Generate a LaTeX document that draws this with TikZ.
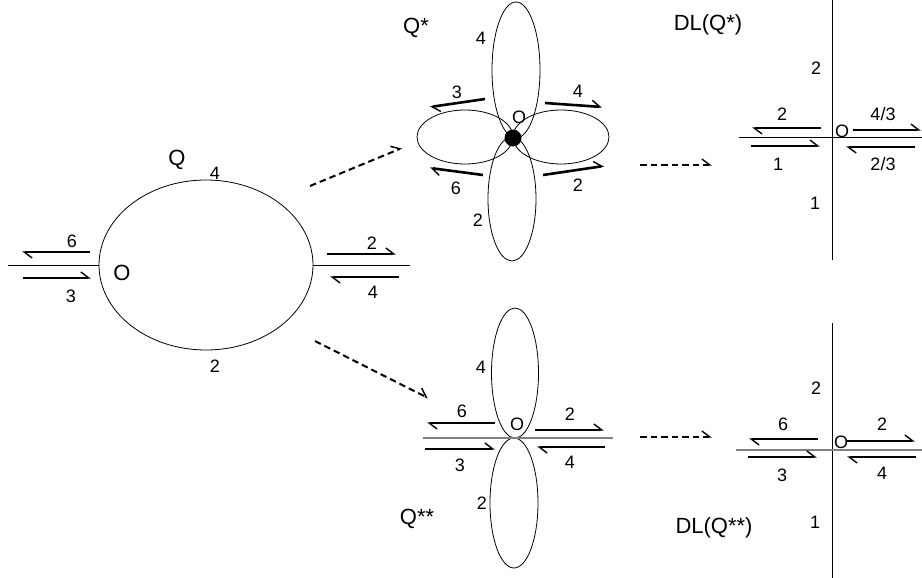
\documentclass[tikz,border=0pt]{standalone}
\usepackage{fontspec}
\setmainfont{Liberation Sans}
\usetikzlibrary{arrows.meta,shapes.geometric}
\begin{document}
\begin{tikzpicture}[x=1pt,y=-1pt,
  lbl/.style={inner sep=0pt,font=\fontsize{18}{21}\selectfont},
  big/.style={inner sep=0pt,font=\fontsize{22}{26}\selectfont},
  loopshape/.style={draw,ellipse,inner sep=0pt,line width=0.8pt},
  harp/.style={line width=2.6pt,-{Straight Barb[left,length=8pt,width=12pt,line width=1.4pt]}},
  dasharrow/.style={line width=2pt,dash pattern=on 6.5pt off 4pt,-{Straight Barb[left,length=8pt,width=12pt,line width=1.4pt]}},
  axisline/.style={line width=0.9pt},
  grayline/.style={line width=1.2pt,draw=gray}
]
\useasboundingbox (0,0) rectangle (922,578);

% ---------- Q ----------
\node[loopshape,minimum width=214pt,minimum height=170pt] (Q) at (206,265) {};
\coordinate (ql) at (8,265);
\coordinate (qr) at (410,265);
\draw[axisline] (ql) -- (Q.west);
\draw[axisline] (Q.east) -- (qr);
\coordinate (q6s) at (90,252); \coordinate (q6e) at (22,252);
\coordinate (q3s) at (23,278); \coordinate (q3e) at (91,278);
\coordinate (q2s) at (327,254); \coordinate (q2e) at (396,254);
\coordinate (q4s) at (399,277); \coordinate (q4e) at (330,277);
\draw[harp] (q6s) -- (q6e);
\draw[harp] (q3s) -- (q3e);
\draw[harp] (q2s) -- (q2e);
\draw[harp] (q4s) -- (q4e);
\node[lbl] (tq6) at (72,241) {6};
\node[lbl] (tq3) at (71,296) {3};
\node[lbl] (tq2) at (372,243) {2};
\node[lbl] (tq4) at (373,292) {4};
\node[big] (tqO) at (122,273) {O};
\node[big] (tqQ) at (177,160) {Q};
\node[lbl] (tqtop) at (215,173) {4};
\node[lbl] (tqbot) at (215,366) {2};

% dashed arrows from Q
\coordinate (d1s) at (310,186); \coordinate (d1e) at (402,148);
\coordinate (d2s) at (315,341); \coordinate (d2e) at (428,398);
\draw[dasharrow] (d1s) -- (d1e);
\draw[dasharrow] (d2s) -- (d2e);

% ---------- Q* ----------
\node[loopshape,minimum width=48pt,minimum height=136pt] (p1t) at (516,70) {};
\node[loopshape,minimum width=48pt,minimum height=124pt] (p1b) at (512,199) {};
\node[loopshape,minimum width=96pt,minimum height=54pt] (p1l) at (465,137) {};
\node[loopshape,minimum width=96pt,minimum height=54pt] (p1r) at (561,137) {};
\node[circle,fill=black,minimum size=17pt,inner sep=0pt] (dot) at (513,138) {};
\coordinate (s3s) at (485,99);  \coordinate (s3e) at (430,107);
\coordinate (s4s) at (545,103); \coordinate (s4e) at (602,107);
\coordinate (s6s) at (483,175); \coordinate (s6e) at (430,168);
\coordinate (s2s) at (543,175); \coordinate (s2e) at (604,166);
\draw[harp] (s3s) -- (s3e);
\draw[harp] (s4s) -- (s4e);
\draw[harp] (s6s) -- (s6e);
\draw[harp] (s2s) -- (s2e);
\node[lbl] (ts3) at (457,92) {3};
\node[lbl] (ts4) at (578,91) {4};
\node[lbl] (ts6) at (456,188) {6};
\node[lbl] (ts2) at (578,185) {2};
\node[lbl] (tsO) at (519,117) {O};
\node[lbl] (tspt) at (481,38) {4};
\node[lbl] (tspb) at (478,220) {2};
\node[big] (tsQ) at (416,28) {Q*};

\coordinate (d3s) at (640,165); \coordinate (d3e) at (712,165);
\draw[dasharrow] (d3s) -- (d3e);

% ---------- DL(Q*) ----------
\coordinate (v1a) at (832,0);   \coordinate (v1b) at (832,260);
\coordinate (h1a) at (739,137); \coordinate (h1b) at (922,137);
\draw[axisline] (v1a) -- (v1b);
\draw[axisline] (h1a) -- (h1b);
\coordinate (e2s) at (821,128); \coordinate (e2e) at (752,128);
\coordinate (e1s) at (751,146); \coordinate (e1e) at (820,146);
\coordinate (e43s) at (853,130); \coordinate (e43e) at (921,130);
\coordinate (e23s) at (915,147); \coordinate (e23e) at (846,147);
\draw[harp] (e2s) -- (e2e);
\draw[harp] (e1s) -- (e1e);
\draw[harp] (e43s) -- (e43e);
\draw[harp] (e23s) -- (e23e);
\node[lbl] (te2) at (782,114) {2};
\node[lbl] (te1) at (778,164) {1};
\node[lbl] (te43) at (883,114) {4/3};
\node[lbl] (te23) at (883,164) {2/3};
\node[lbl] (teO) at (842,131) {O};
\node[lbl] (teax2) at (816,68) {2};
\node[lbl] (teax1) at (815,203) {1};
\node[big] (teDL) at (708,25) {DL(Q*)};

% ---------- Q** ----------
\node[loopshape,minimum width=47pt,minimum height=130pt] (p2t) at (515,373) {};
\node[loopshape,minimum width=48pt,minimum height=130pt] (p2b) at (514,503) {};
\coordinate (g2a) at (423,438); \coordinate (g2b) at (613,438);
\draw[grayline] (g2a) -- (g2b);
\coordinate (u6s) at (495,423); \coordinate (u6e) at (427,423);
\coordinate (u3s) at (425,449); \coordinate (u3e) at (495,449);
\coordinate (u2s) at (535,430); \coordinate (u2e) at (604,430);
\coordinate (u4s) at (605,447); \coordinate (u4e) at (537,447);
\draw[harp] (u6s) -- (u6e);
\draw[harp] (u3s) -- (u3e);
\draw[harp] (u2s) -- (u2e);
\draw[harp] (u4s) -- (u4e);
\node[lbl] (tu6) at (462,411) {6};
\node[lbl] (tu3) at (460,465) {3};
\node[lbl] (tu2) at (570,414) {2};
\node[lbl] (tu4) at (570,462) {4};
\node[lbl] (tuO) at (517,424) {O};
\node[lbl] (tupt) at (481,367) {4};
\node[lbl] (tupb) at (482,503) {2};
\node[big] (tuQ) at (417,519) {Q**};

\coordinate (d4s) at (640,437); \coordinate (d4e) at (712,437);
\draw[dasharrow] (d4s) -- (d4e);

% ---------- DL(Q**) ----------
\coordinate (v2a) at (832,323); \coordinate (v2b) at (832,578);
\coordinate (h2a) at (736,450); \coordinate (h2b) at (922,450);
\draw[axisline] (v2a) -- (v2b);
\draw[grayline] (h2a) -- (h2b);
\coordinate (f6s) at (818,439); \coordinate (f6e) at (749,439);
\coordinate (f3s) at (748,457); \coordinate (f3e) at (817,457);
\coordinate (f2s) at (847,441); \coordinate (f2e) at (915,441);
\coordinate (f4s) at (916,457); \coordinate (f4e) at (847,457);
\draw[harp] (f6s) -- (f6e);
\draw[harp] (f3s) -- (f3e);
\draw[harp] (f2s) -- (f2e);
\draw[harp] (f4s) -- (f4e);
\node[lbl] (tf6) at (783,424) {6};
\node[lbl] (tf3) at (782,475) {3};
\node[lbl] (tf2) at (882,424) {2};
\node[lbl] (tf4) at (882,473) {4};
\node[lbl] (tfO) at (841,442) {O};
\node[lbl] (tfax2) at (816,388) {2};
\node[lbl] (tfax1) at (815,522) {1};
\node[big] (tfDL) at (714,528) {DL(Q**)};
\end{tikzpicture}
\end{document}
